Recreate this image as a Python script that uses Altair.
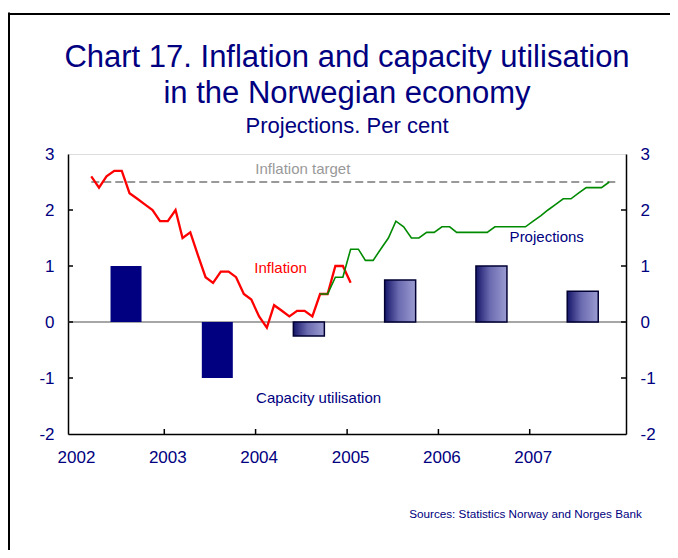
import altair as alt
import pandas as pd

# ---------------- data ----------------
infl_start = "2002-03"
inflation = [2.6, 2.4, 2.6, 2.7, 2.7, 2.3, 2.2, 2.1, 2.0, 1.8,
             1.8, 2.0, 1.5, 1.6, 1.2, 0.8, 0.7, 0.9, 0.9, 0.8, 0.5, 0.4,
             0.1, -0.1, 0.3, 0.2, 0.1, 0.2, 0.2, 0.1, 0.5, 0.5, 1.0, 1.0,
             0.7]
proj_start = "2004-09"
projections = [0.5, 0.5, 0.8, 0.8,
               1.3, 1.3, 1.1, 1.1, 1.3, 1.5, 1.8, 1.7, 1.5, 1.5, 1.6, 1.6,
               1.7, 1.7, 1.6, 1.6, 1.6, 1.6, 1.6, 1.7, 1.7, 1.7, 1.7, 1.7,
               1.8, 1.9, 2.0, 2.1, 2.2, 2.2, 2.3, 2.4, 2.4, 2.4, 2.5]
gap_years = [2002, 2003, 2004, 2005, 2006, 2007]
gap_values = [1.0, -1.0, -0.25, 0.75, 1.0, 0.55]
gap_projected = [False, False, True, True, True, True]
target_value = 2.5
target_span = ["2002-03-15", "2007-12-13"]
year_ticks = [2002, 2003, 2004, 2005, 2006, 2007]
y_ticks = [-2, -1, 0, 1, 2, 3]

NAVY = "#000080"
FONT = "Liberation Sans"


def month_dates(start, n):
    return [d.strftime("%Y-%m-15") for d in pd.date_range(start + "-01", periods=n, freq="MS")]


infl_df = pd.DataFrame({"date": month_dates(infl_start, len(inflation)), "v": inflation})
proj_df = pd.DataFrame({"date": month_dates(proj_start, len(projections)), "v": projections})
gap_df = pd.DataFrame({"date": [f"{y}-08-01" for y in gap_years], "v": gap_values,
                       "proj": gap_projected})
target_df = pd.DataFrame({"date": [target_span[0]], "date2": [target_span[1]], "v": [target_value]})
labels_df = pd.DataFrame({
    "date": ["2004-07-08", "2004-04-10", "2007-03-10", "2004-09-09"],
    "v": [2.64, 0.87, 1.42, -1.45],
    "text": ["Inflation target", "Inflation", "Projections", "Capacity utilisation"],
    "color": ["#999999", "#ff0000", NAVY, NAVY],
})
xtick_df = pd.DataFrame({"date": [f"{y}-01-01" for y in year_ticks[1:]]})
ytick_df = pd.DataFrame({"v": y_ticks[1:-1]})

W, H = 558, 280
PAD = {"left": 60, "top": 146, "right": 44, "bottom": 116}

xscale = alt.Scale(type="utc", domain=[alt.DateTime(year=2002, month=1, date=1, utc=True),
                                       alt.DateTime(year=2008, month=1, date=1, utc=True)], nice=False)
yscale = alt.Scale(domain=[-2, 3], nice=False, zero=False)

xaxis = alt.Axis(values=[alt.DateTime(year=y, month=1, date=1, utc=True) for y in year_ticks],
                 format="%Y", formatType="utc", ticks=False, grid=False, domain=True,
                 domainColor="black", domainWidth=1.5, labelFont=FONT, labelFontSize=17,
                 labelColor=NAVY, labelPadding=15, labelOffset=3, labelFlush=False,
                 title="Sources: Statistics Norway and Norges Bank", titleFont=FONT,
                 titleFontSize=11.7, titleFontWeight="normal", titleColor=NAVY,
                 titleX=457, titleY=83, titleAlign="center", titleBaseline="alphabetic")
yaxis_l = alt.Axis(orient="left", values=y_ticks, ticks=False, grid=False, domain=True,
                   domainColor="black", domainWidth=1.5, labelFont=FONT, labelFontSize=17,
                   labelColor=NAVY, labelPadding=14, labelExpr="'' + datum.value", title=None)
yaxis_r = alt.Axis(orient="right", values=y_ticks, ticks=False, grid=False, domain=True,
                   domainColor="black", domainWidth=1.5, labelFont=FONT, labelFontSize=17,
                   labelColor=NAVY, labelPadding=14, labelExpr="'' + datum.value", title=None)


def X(field="date"):
    return alt.X(f"{field}:T", scale=xscale, axis=xaxis)


def Y(field="v"):
    return alt.Y(f"{field}:Q", scale=yscale, axis=yaxis_l)


zero = alt.Chart(pd.DataFrame({"v": [0]})).mark_rule(color="#888888", strokeWidth=1.5).encode(y=Y())

bars_actual = alt.Chart(gap_df).transform_filter("!datum.proj").mark_bar(
    size=31, color=NAVY).encode(x=X(), y=Y())

grad = alt.LinearGradient(gradient="linear", x1=0, x2=1, y1=0, y2=0,
                          stops=[alt.GradientStop(color="#16166a", offset=0),
                                 alt.GradientStop(color="#6a6ab0", offset=0.45),
                                 alt.GradientStop(color="#9c9cd2", offset=1)])
bars_proj = alt.Chart(gap_df).transform_filter("datum.proj").mark_bar(
    size=31, color=grad, stroke="#000033", strokeWidth=1.5).encode(x=X(), y=Y())

target = alt.Chart(target_df).mark_rule(color="#999999", strokeWidth=2, strokeDash=[8, 4]).encode(
    x=X(), x2="date2:T", y=Y())

infl_line = alt.Chart(infl_df).mark_line(color="#ff0000", strokeWidth=2.3).encode(x=X(), y=Y())
proj_line = alt.Chart(proj_df).mark_line(color="#008a00", strokeWidth=1.6).encode(x=X(), y=Y())

texts = alt.Chart(labels_df).mark_text(font=FONT, fontSize=15, align="center",
                                       baseline="alphabetic").encode(
    x=X(), y=Y(), text="text:N", color=alt.Color("color:N", scale=None))

left_ticks = alt.Chart(ytick_df).mark_rule(color="black", strokeWidth=1.5).encode(
    y=Y(), x=alt.value(0), x2=alt.value(5))
bottom_ticks = alt.Chart(xtick_df).mark_rule(color="black", strokeWidth=1.5).encode(
    x=X(), y=alt.value(H), y2=alt.value(H - 5))

main = alt.layer(zero, bars_actual, bars_proj, target, infl_line, proj_line, texts,
                 left_ticks, bottom_ticks)

right = alt.Chart(ytick_df).mark_rule(color="black", strokeWidth=1.5).encode(
    y=alt.Y("v:Q", scale=yscale, axis=yaxis_r), x=alt.value(W - 5), x2=alt.value(W))

# outer frame of the slide
# left edge: thin filled strip
frame_left = alt.Chart(pd.DataFrame({"a": [0]})).mark_rect(color="black", strokeWidth=0).encode(
    x=alt.value(-60), x2=alt.value(-58), y=alt.value(-141.5), y2=alt.value(H + PAD["bottom"]))
# top edge: the domain line of an otherwise empty top axis
frame_top = alt.Chart(pd.DataFrame({"fx": [0, 1]})).mark_point(opacity=0).encode(
    x=alt.X("fx:Q",
            scale=alt.Scale(domain=[0, 1], range=[-60, W + PAD["right"]], nice=False, zero=False),
            axis=alt.Axis(orient="top", offset=140.5, domain=True, domainColor="black",
                          domainWidth=2, ticks=False, labels=False, grid=False, title=None)),
    y=alt.value(0))

chart = alt.layer(main, right, frame_left, frame_top).resolve_scale(
    y="independent", x="independent").properties(
    width=W, height=H,
    autosize=alt.AutoSizeParams(type="none"),
    padding=PAD,
    title=alt.TitleParams(
        text=["Chart 17. Inflation and capacity utilisation", "in the Norwegian economy"],
        subtitle="Projections. Per cent",
        anchor="middle", frame="group", font=FONT, fontSize=31, fontWeight="normal",
        lineHeight=36, color=NAVY, subtitleFont=FONT, subtitleFontSize=22,
        subtitleColor=NAVY, subtitlePadding=6, offset=-125),
).configure_view(stroke="#444444", strokeWidth=1).configure(background="white")

chart.save("out.html", embed_options={"renderer": "svg", "actions": False})
